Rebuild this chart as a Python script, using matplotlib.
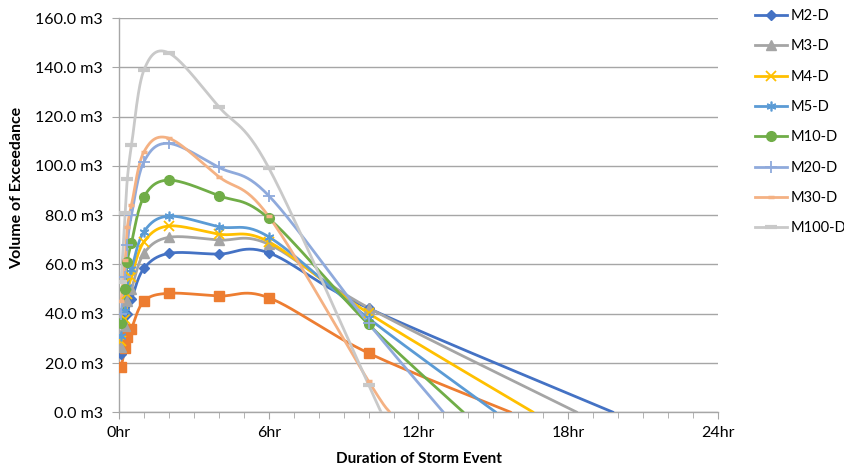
import numpy as np
import matplotlib
matplotlib.use("Agg")
import matplotlib.pyplot as plt
from matplotlib.ticker import MultipleLocator, FuncFormatter

plt.rcParams['font.family'] = ['Lato', 'DejaVu Sans']

# ---- data (hours, m3) ----
hours = [0.083, 0.25, 0.333, 0.5, 1, 2, 4, 6, 10]

series_names = ["M2-D", "", "M3-D", "M4-D", "M5-D", "M10-D", "M20-D", "M30-D", "M100-D"]
m2   = [23.6, 31.0, 40.0, 45.8, 58.4, 64.5, 64.2, 64.7, 42.2]
m1   = [18.4, 25.9, 30.5, 34.0, 45.1, 48.3, 47.2, 46.5, 24.0]
m3   = [26.6, 35.0, 45.0, 50.0, 64.5, 71.0, 69.9, 68.2, 42.4]
m4   = [29.0, 38.0, 48.0, 55.0, 69.2, 75.6, 72.3, 69.2, 40.2]
m5   = [31.0, 41.0, 51.0, 58.0, 73.3, 79.6, 75.3, 71.2, 38.1]
m10  = [36.1, 50.0, 61.1, 68.8, 87.5, 94.2, 87.9, 78.7, 35.7]
m20  = [40.0, 55.0, 68.0, 80.0, 101.7, 109.1, 99.4, 87.9, 36.1]
m30  = [45.0, 62.0, 75.0, 84.0, 105.7, 111.2, 95.6, 79.5, 12.6]
m100 = [53.0, 80.7, 94.5, 108.3, 138.9, 145.8, 124.0, 99.2, 11.1]
# hour at which each series reaches zero volume
zero_hour = [19.8, 15.7, 18.35, 16.6, 15.1, 13.8, 13.0, 10.85, 10.5]

values = [m2, m1, m3, m4, m5, m10, m20, m30, m100]

colors = ["#4472C4", "#ED7D31", "#A5A5A5", "#FFC000", "#5B9BD5",
          "#70AD47", "#8FAADC", "#F4B183", "#C9C9C9"]
markers = ["D", "s", "^", "x", (6, 2, 0), "o", "+", "_", "_"]
msizes = [5.5, 6.5, 6.5, 6.5, 7, 7, 8, 5, 8]
mews = [1, 1, 1, 1.3, 1.2, 1, 1.3, 2.5, 3]


def smooth(xs, ys, n=30):
    P = np.column_stack([xs, ys]).astype(float)
    Pe = np.vstack([P[0], P, P[-1]])
    out = []
    t = np.linspace(0, 1, n)[:, None]
    for i in range(len(P) - 1):
        p0, p1, p2, p3 = Pe[i], Pe[i + 1], Pe[i + 2], Pe[i + 3]
        b0 = p1
        b1 = p1 + (p2 - p0) / 6.0
        b2 = p2 - (p3 - p1) / 6.0
        b3 = p2
        seg = ((1 - t) ** 3) * b0 + 3 * ((1 - t) ** 2) * t * b1 + 3 * (1 - t) * t ** 2 * b2 + t ** 3 * b3
        out.append(seg if i == 0 else seg[1:])
    out = np.vstack(out)
    return out[:, 0], out[:, 1]


fig = plt.figure(figsize=(8.45, 4.65), dpi=100)
ax = fig.add_axes([119 / 845, 1 - 412.3 / 465, (718 - 119) / 845, (412.3 - 18) / 465])

handles = []
for name, vals, zh, c, mk, ms, mw in zip(series_names, values, zero_hour, colors, markers, msizes, mews):
    xs = hours + [zh]
    ys = vals + [0.0]
    sx, sy = smooth(xs, ys)
    ax.plot(sx, sy, color=c, lw=2.0, solid_capstyle='round', zorder=3)
    ax.plot(hours, vals, linestyle='none', marker=mk, markersize=ms, color=c,
            markeredgecolor=c, markerfacecolor=c, markeredgewidth=mw, zorder=4)
    if name:
        h, = ax.plot([], [], color=c, lw=2.0, marker=mk, markersize=ms,
                     markeredgecolor=c, markerfacecolor=c, markeredgewidth=mw, label=name)
        handles.append(h)

ax.set_xlim(0, 24)
ax.set_ylim(0, 160)
ax.xaxis.set_major_locator(MultipleLocator(6))
ax.xaxis.set_minor_locator(MultipleLocator(1))
ax.yaxis.set_major_locator(MultipleLocator(20))
ax.xaxis.set_major_formatter(FuncFormatter(lambda v, p: f"{int(v)}hr"))
ax.yaxis.set_major_formatter(FuncFormatter(lambda v, p: f"{v:.1f} m3"))
ax.grid(axis='y', color='#A6A6A6', lw=1.0, zorder=0)
for s in ['top', 'right']:
    ax.spines[s].set_visible(False)
for s in ['left', 'bottom']:
    ax.spines[s].set_color('#A6A6A6')
    ax.spines[s].set_linewidth(1.0)
ax.tick_params(axis='both', which='both', color='#A6A6A6', labelsize=11.5, labelcolor='#000000')
ax.tick_params(axis='x', which='major', length=5, pad=5)
ax.tick_params(axis='x', which='minor', length=4)
ax.tick_params(axis='y', length=5, pad=6.5)

ax.set_xlabel("Duration of Storm Event", fontsize=11, fontweight='bold')
ax.set_ylabel("Volume of Exceedance", fontsize=11.5, fontweight='bold')
ax.yaxis.set_label_coords((17 - 119) / 599, (412.3 - 187.5) / 394.3)
ax.xaxis.set_label_coords(0.5, -(459 - 412.3) / 394.3)
ax.xaxis.label.set_verticalalignment('center')
ax.yaxis.label.set_verticalalignment('center')

fig.legend(handles=handles, loc='upper left', bbox_to_anchor=(755 / 845, 1 - 9 / 465),
           frameon=False, fontsize=10.5, labelspacing=1.12, handlelength=2.2,
           handletextpad=0.25, borderaxespad=0, borderpad=0)

fig.savefig("out.png", dpi=100)
